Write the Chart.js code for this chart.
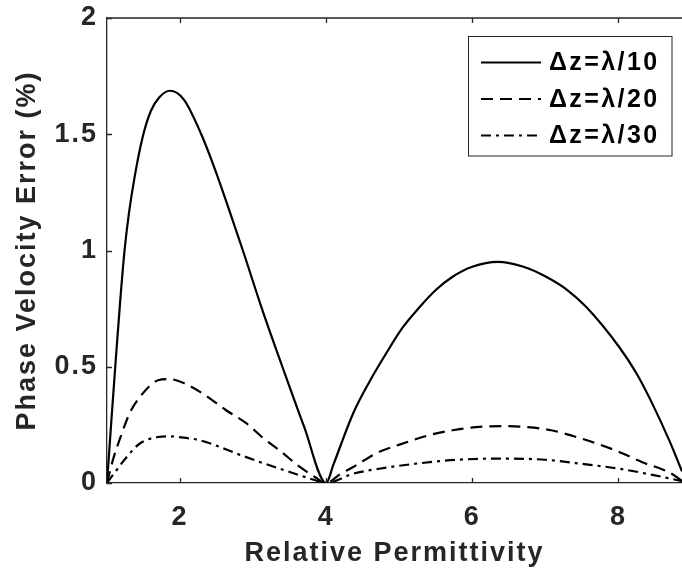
<!DOCTYPE html>
<html><head><meta charset="utf-8">
<script src="https://cdn.jsdelivr.net/npm/chart.js@4/dist/chart.umd.min.js"></script>
<style>html,body{margin:0;padding:0;background:#fff}#wrap{width:682px;height:573px}</style>
</head><body><div id="wrap"><canvas id="c" width="682" height="573"></canvas></div>
<script>
// ---- data ----
const seriesLabels = ['Δz=λ/10', 'Δz=λ/20', 'Δz=λ/30'];
const xTickValues = [2, 4, 6, 8];
const yTickValues = [0, 0.5, 1, 1.5, 2];
const xTitle = 'Relative Permittivity';
const yTitle = 'Phase Velocity Error (%)';

const x10 = [1.00,1.06,1.12,1.18,1.24,1.30,1.38,1.49,1.60,1.72,1.86,2.05,2.29,2.50,2.72,2.86,3.12,3.40,3.70,4.00,4.10,4.37,4.60,4.82,5.05,5.28,5.50,5.73,6.00,6.35,6.70,7.01,7.30,7.56,8.01,8.25,8.45,8.70,8.87];
const y10 = [0,0.27,0.53,0.78,1.00,1.16,1.32,1.49,1.60,1.66,1.687,1.65,1.50,1.33,1.13,1.00,0.75,0.50,0.24,0,0.08,0.30,0.44,0.557,0.67,0.757,0.83,0.887,0.93,0.951,0.93,0.887,0.83,0.757,0.585,0.47,0.35,0.18,0.05];

const x20 = [1.00,1.08,1.17,1.31,1.45,1.70,1.85,2.05,2.31,2.63,2.91,3.15,3.36,3.64,3.85,4.00,4.20,4.37,4.70,5.05,5.40,5.73,6.05,6.40,6.75,7.08,7.40,7.70,8.00,8.32,8.70,8.87];
const y20 = [0,0.098,0.184,0.30,0.37,0.442,0.447,0.43,0.385,0.313,0.256,0.19,0.141,0.069,0.025,0,0.04,0.069,0.13,0.17,0.205,0.227,0.24,0.245,0.24,0.227,0.20,0.17,0.135,0.09,0.045,0.01];

const x30 = [1.00,1.13,1.27,1.45,1.70,1.85,2.05,2.27,2.50,2.77,3.05,3.36,3.64,3.85,4.00,4.37,4.80,5.28,5.80,6.37,7.00,7.56,8.00,8.45,8.87];
const y30 = [0,0.055,0.112,0.17,0.198,0.201,0.195,0.184,0.16,0.127,0.095,0.062,0.033,0.012,0,0.040,0.065,0.085,0.100,0.105,0.100,0.080,0.062,0.036,0.008];

const X_MIN = 1, X_MAX = 8.87, Y_MIN = 0, Y_MAX = 2;
const AX = '#262626';
const FONT = '"Liberation Sans", Arial, Helvetica, sans-serif';

const pts = (xs, ys) => xs.map((x, i) => ({x, y: ys[i]}));

const dashes = [[], [12, 7], [10, 5, 3, 5]];
const dataSets = [[x10, y10], [x20, y20], [x30, y30]];

const datasets = dataSets.map((d, i) => ({
  label: seriesLabels[i],
  data: pts(d[0], d[1]),
  borderColor: '#000',
  borderWidth: 2.2,
  borderDash: dashes[i],
  borderCapStyle: 'butt',
  pointRadius: 0,
  fill: false,
  cubicInterpolationMode: 'monotone'
}));

const spacingPlugin = {
  id: 'spacing',
  beforeLayout(chart) { chart.ctx.letterSpacing = '2px'; },
  beforeDraw(chart) { chart.ctx.letterSpacing = '2px'; }
};

const framePlugin = {
  id: 'frame',
  afterDatasetsDraw(chart) {
    const {ctx, chartArea: a, scales} = chart;
    ctx.save();
    ctx.strokeStyle = AX;
    ctx.lineWidth = 1.3;
    ctx.beginPath();
    ctx.moveTo(a.left, a.top); ctx.lineTo(a.right, a.top);
    const tl = 5;
    xTickValues.forEach(v => {
      const px = Math.round(scales.x.getPixelForValue(v)) + 0.5;
      ctx.moveTo(px, a.bottom); ctx.lineTo(px, a.bottom - tl);
      ctx.moveTo(px, a.top); ctx.lineTo(px, a.top + tl);
    });
    yTickValues.forEach(v => {
      const py = Math.round(scales.y.getPixelForValue(v)) + 0.5;
      ctx.moveTo(a.left, py); ctx.lineTo(a.left + tl, py);
    });
    ctx.stroke();

    // legend box
    const bx = 468.5, by = 36.5, bw = 203.5, bh = 119.5;
    ctx.fillStyle = '#fff';
    ctx.fillRect(bx, by, bw, bh);
    ctx.lineWidth = 1;
    ctx.strokeStyle = AX;
    ctx.setLineDash([]);
    ctx.strokeRect(bx, by, bw, bh);
    const rows = [62.5, 99, 135.5];
    chart.data.datasets.forEach((ds, i) => {
      const y = rows[i];
      ctx.strokeStyle = '#000';
      ctx.lineWidth = ds.borderWidth;
      ctx.setLineDash(ds.borderDash);
      ctx.beginPath();
      ctx.moveTo(481, y); ctx.lineTo(541, y);
      ctx.stroke();
      ctx.setLineDash([]);
      ctx.fillStyle = '#000';
      ctx.letterSpacing = '2.4px';
      ctx.font = 'bold 25px ' + FONT;
      ctx.textAlign = 'left';
      ctx.textBaseline = 'middle';
      ctx.fillText(ds.label, 549, y + 1);
    });
    ctx.restore();
  }
};

new Chart(document.getElementById('c'), {
  type: 'line',
  data: {datasets},
  options: {
    responsive: false,
    animation: false,
    devicePixelRatio: 1,
    layout: {padding: {top: 18, right: 0, left: 0, bottom: 0}},
    plugins: {legend: {display: false}, tooltip: {enabled: false}},
    scales: {
      x: {
        type: 'linear', min: X_MIN, max: X_MAX,
        grid: {display: false, drawTicks: false},
        border: {display: true, color: AX, width: 1.3},
        afterBuildTicks: s => { s.ticks = xTickValues.map(v => ({value: v})); },
        afterFit: s => { s.height = 90; s.paddingLeft = 0; s.paddingRight = 0; },
        ticks: {font: {family: FONT, size: 27, weight: 'bold'}, color: AX, padding: 18, maxRotation: 0,
                callback: v => String(v)},
        title: {display: true, text: xTitle, color: AX, font: {family: FONT, size: 27, weight: 'bold', lineHeight: 1.2}, padding: {top: 0, bottom: 3}}
      },
      y: {
        type: 'linear', min: Y_MIN, max: Y_MAX,
        grid: {display: false, drawTicks: false},
        border: {display: true, color: AX, width: 1.3},
        afterBuildTicks: s => { s.ticks = yTickValues.map(v => ({value: v})); },
        afterFit: s => { s.width = 107; s.paddingTop = 0; s.paddingBottom = 0; },
        ticks: {font: {family: FONT, size: 27, weight: 'bold'}, color: AX, padding: 9,
                callback: v => String(v)},
        title: {display: true, text: yTitle, color: AX, font: {family: FONT, size: 27, weight: 'bold', lineHeight: 1.2}, padding: {top: 11, bottom: 0}}
      }
    }
  },
  plugins: [spacingPlugin, framePlugin]
});
</script>
</body></html>
